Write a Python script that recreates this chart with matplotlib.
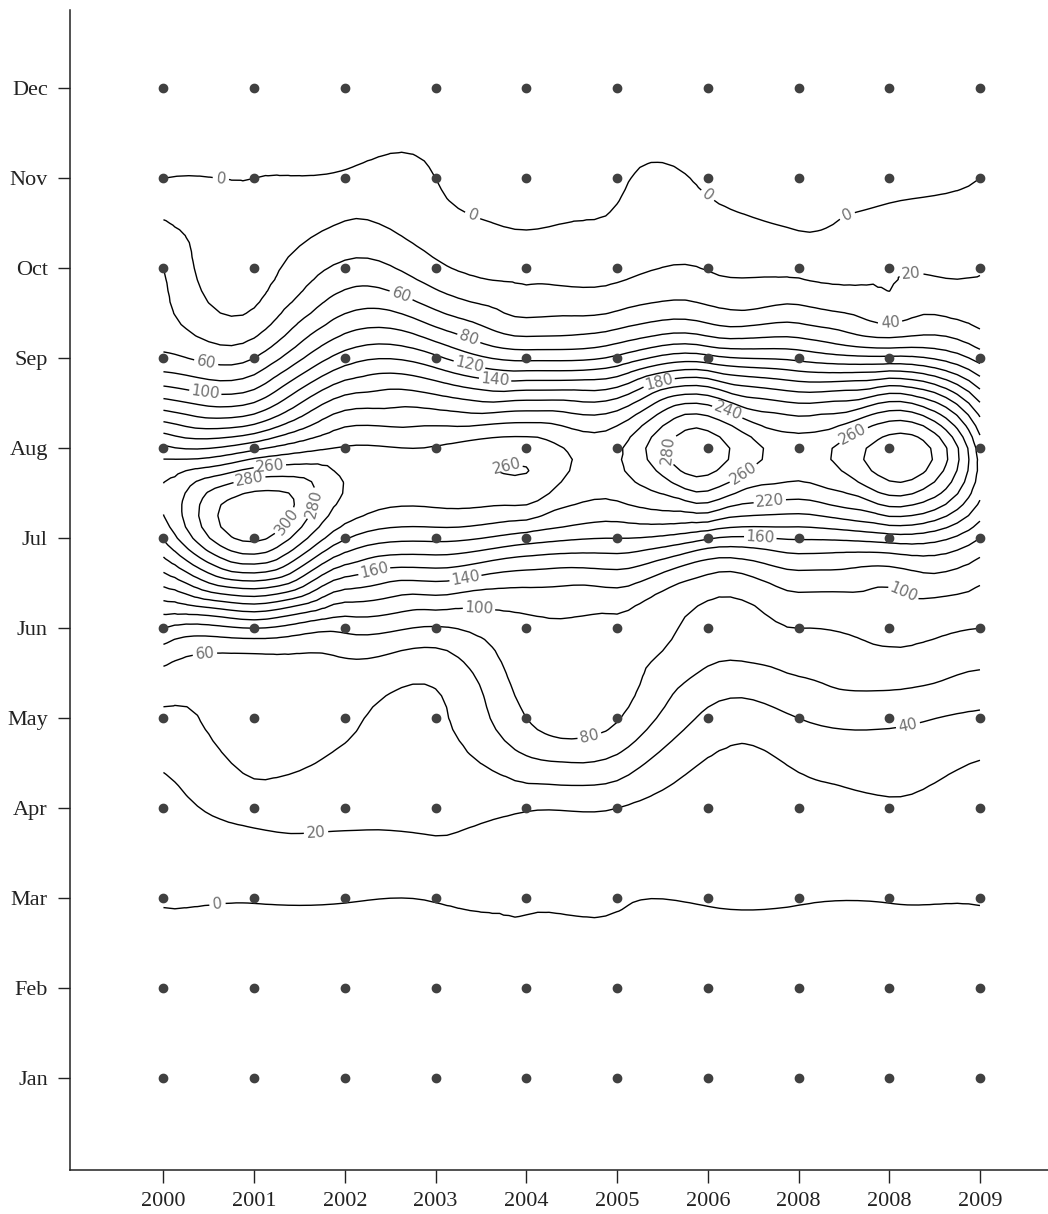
import numpy as np
import matplotlib
matplotlib.use("Agg")
import matplotlib.pyplot as plt
import matplotlib.tri as mtri

# axis categories (the source figure really prints "2008" twice)
years = ["2000", "2001", "2002", "2003", "2004", "2005", "2006", "2008", "2008", "2009"]
months = ["Jan", "Feb", "Mar", "Apr", "May", "Jun", "Jul", "Aug", "Sep", "Oct", "Nov", "Dec"]

# values read at each grid dot, one list per month, one entry per year column
jan = [-2, -2, -2, -2, -2, -2, -2, -2, -2, -2]
feb = [-10, -10, -10, -10, -10, -10, -10, -10, -10, -10]
mar = [1, 1, 1, 1, 1, 1, 1, 1, 1, 1]
apr = [10, 28, 27, 27, 22, 20, 9, 12, 18, 10]
may = [37, 48, 43, 36, 80, 82, 35, 40, 45, 36]
jun = [100, 100, 85, 78, 95, 95, 72, 80, 85, 80]
jul = [222, 305, 222, 205, 190, 180, 162, 162, 170, 140]
aug = [205, 215, 242, 242, 252, 236, 292, 250, 292, 190]
sep = [65, 60, 130, 125, 95, 105, 128, 115, 105, 72]
octo = [40, 10, 45, 25, 14, 14, 19, 15, 18, 19]
nov = [0, 0, 3, 0, -20, -3, -3, -15, -10, 0]
dec = [-15, -15, -15, -15, -20, -15, -15, -15, -15, -10]

levels = list(range(0, 320, 20))

# where the contour labels sit in the original (data coords)
label_spots = [
    (0.64, 10.07), (3.52, 10.0), (6.36, 10.29), (7.33, 10.23),
    (8.23, 9.03), (8.0, 8.45), (2.64, 8.76), (3.35, 8.18), (3.38, 7.96),
    (3.65, 7.7), (5.47, 7.7), (0.46, 7.9), (0.46, 7.61), (6.21, 7.39),
    (3.76, 6.92), (1.17, 6.83), (0.95, 6.64), (1.26, 6.26), (1.73, 6.37),
    (5.53, 6.98), (6.41, 6.69), (7.62, 7.11), (6.69, 6.34), (6.58, 6.03),
    (2.33, 5.61), (3.32, 5.61), (3.49, 5.31), (8.17, 5.42), (0.46, 4.68),
    (4.63, 4.2), (8.17, 4.11), (1.67, 2.89), (0.57, 2.37),
]

grid = np.array([jan, feb, mar, apr, may, jun, jul, aug, sep, octo, nov, dec], dtype=float)
xs = np.arange(len(years))
ys = np.arange(len(months))
gx, gy = np.meshgrid(xs, ys)

# smooth the contours the way gridding software does
tri = mtri.Triangulation(gx.ravel().astype(float), gy.ravel().astype(float))
refiner = mtri.UniformTriRefiner(tri)
tri_f, z_f = refiner.refine_field(grid.ravel(), subdiv=3)

W, H = 1048, 1214
fig = plt.figure(figsize=(W / 100, H / 100), dpi=100)
ax = fig.add_axes([70 / W, 1 - 1170 / H, 1 - 70 / W, (1170 - 10) / H])

cs = ax.tricontour(tri_f, z_f, levels=levels, colors="black", linewidths=1.0)
ax.clabel(cs, manual=label_spots, inline=True, fontsize=11, colors="#707070", fmt="%d")

ax.plot(gx.ravel(), gy.ravel(), "o", color="#404040", ms=6, zorder=3)

ax.set_xlim(-1.03, 9.75)
ax.set_ylim(-1.02, 11.87)
ax.set_xticks(xs)
ax.set_xticklabels(years)
ax.set_yticks(ys)
ax.set_yticklabels(months)
for lab in ax.get_xticklabels() + ax.get_yticklabels():
    lab.set_family("Liberation Serif")
    lab.set_fontsize(16)
ax.tick_params(direction="out", length=9, width=1, pad=7, colors="#222222")
ax.spines["top"].set_visible(False)
ax.spines["right"].set_visible(False)
for s in ("left", "bottom"):
    ax.spines[s].set_linewidth(1.1)
    ax.spines[s].set_color("#222222")

fig.savefig("out.png", dpi=100, facecolor="white")
